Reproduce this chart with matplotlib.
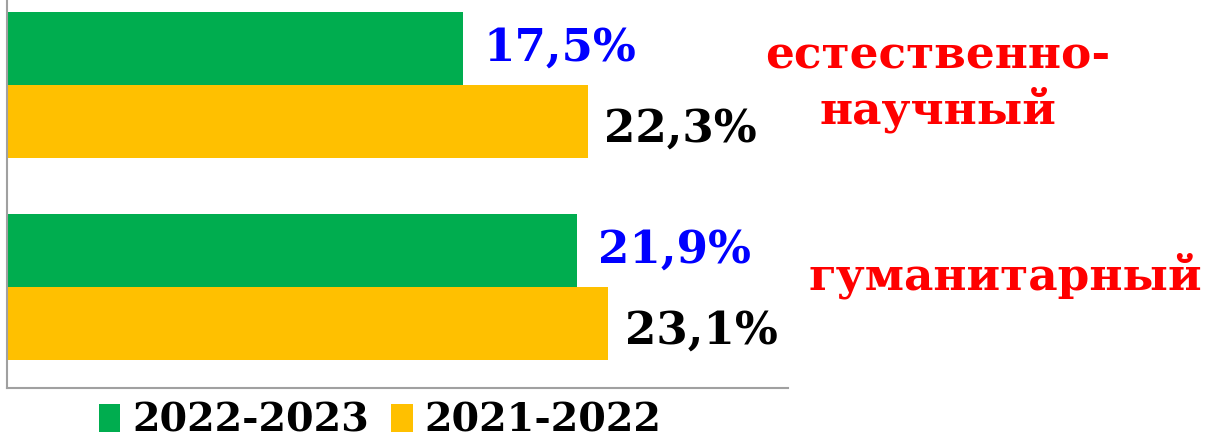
import matplotlib
matplotlib.use("Agg")
import matplotlib.pyplot as plt
import numpy as np

categories = ["гуманитарный", "естественно-\nнаучный"]
series_names = ["2022-2023", "2021-2022"]
values_2022_2023 = [21.9, 17.5]
values_2021_2022 = [23.1, 22.3]
labels_2022_2023 = ["21,9%", "17,5%"]
labels_2021_2022 = ["23,1%", "22,3%"]

GREEN = "#00AD4F"
YELLOW = "#FFC000"
FONT = "DejaVu Serif"

fig = plt.figure(figsize=(12.07, 4.41), dpi=100)
ax = fig.add_axes([7 / 1207, 1 - 388 / 441, (788 - 7) / 1207, 388 / 441])

y = np.arange(len(categories))
h = 0.361
ax.barh(y + h / 2, values_2022_2023, height=h, color=GREEN, label=series_names[0])
ax.barh(y - h / 2, values_2021_2022, height=h, color=YELLOW, label=series_names[1])

for yi, v, lab in zip(y, values_2022_2023, labels_2022_2023):
    ax.text(v + 0.8, yi + h / 2, lab, color="#0000FF", fontsize=32.5, fontweight="bold",
            family=FONT, va="center", ha="left")
for yi, v, lab in zip(y, values_2021_2022, labels_2021_2022):
    ax.text(v + 0.65, yi - h / 2 - 0.04, lab, color="black", fontsize=32.5, fontweight="bold",
            family=FONT, va="center", ha="left")

ax.set_xlim(0, 30)
ax.set_ylim(-0.5, 1.42)
ax.set_xticks([])
ax.set_yticks([])
for s in ["top", "right"]:
    ax.spines[s].set_visible(False)
for s in ["left", "bottom"]:
    ax.spines[s].set_color("#A0A0A0")
    ax.spines[s].set_linewidth(1.5)

# category labels on the right
fig.text(1005 / 1207, 1 - 276 / 441, categories[0], color="red", fontsize=32.7,
         fontweight="bold", family=FONT, ha="center", va="center")
fig.text(938 / 1207, 1 - 84 / 441, categories[1], color="red", fontsize=32.7,
         fontweight="bold", family=FONT, ha="center", va="center", linespacing=1.25,
         multialignment="center")

leg = fig.legend(loc="center", bbox_to_anchor=(380 / 1207, 1 - 421 / 441),
                 ncol=2, frameon=False, handlelength=0.55, handleheight=0.7,
                 handletextpad=0.3, columnspacing=0.55, borderpad=0.1,
                 prop={"family": FONT, "weight": "bold", "size": 28.5})

fig.savefig("out.png", dpi=100, facecolor="white")
